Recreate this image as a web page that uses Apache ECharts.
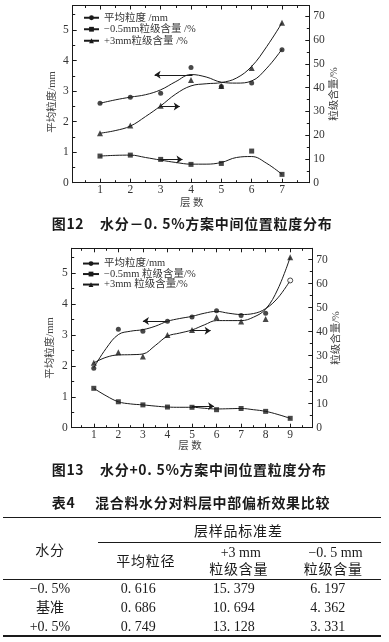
<!DOCTYPE html>
<html><head><meta charset="utf-8">
<script src="https://cdn.jsdelivr.net/npm/echarts@6/dist/echarts.min.js"></script>
<style>
html,body{margin:0;padding:0;background:#fff;}
#wrap{position:relative;width:389px;height:642px;overflow:hidden;background:#fff;}
#chart{position:absolute;left:0;top:0;width:389px;height:642px;}
.t{position:absolute;white-space:nowrap;line-height:1;color:#1a1a1a;}
.cap{font-family:"Noto Sans CJK SC","Noto Sans",sans-serif;font-weight:700;font-size:14px;letter-spacing:0.7px;transform:translateY(-50%);}
.tb{font-family:"Liberation Serif","Noto Sans CJK SC",serif;font-size:14px;transform:translate(-50%,-50%);}
.cj{letter-spacing:0.8px;}
.nm{font-family:"Liberation Serif","Noto Sans CJK SC",serif;font-size:10.5px;color:#444;transform:translate(-50%,-50%);}
.nmr{font-family:"Liberation Serif","Noto Sans CJK SC",serif;font-size:10.5px;color:#444;transform:translate(-50%,-50%) rotate(-90deg);}
.rule{position:absolute;background:#1a1a1a;}
</style></head>
<body><div id="wrap"><div id="chart"></div></div>
<script>
// ---------- Figure 12 data ----------
const layers1 = [1, 2, 3, 4, 5, 6, 7];
const avgSize1 = [2.60, 2.80, 2.93, 3.77, 3.15, 3.26, 4.35];      // mm (left axis)
const fine1 = [11.2, 11.6, 9.8, 7.7, 8.1, 13.3, 3.5];              // -0.5mm % (right axis)
const coarse1 = [20.8, 24.0, 32.3, 43.2, 40.7, 48.2, 67.2];        // +3mm % (right axis)
// fitted curves
const curveX1 = [1, 1.5, 2, 2.5, 3, 3.5, 4, 4.5, 5, 5.5, 6, 6.5, 7];
const avgCurve1 = [2.60, 2.71, 2.80, 2.88, 3.04, 3.31, 3.54, 3.46, 3.29, 3.26, 3.33, 3.75, 4.37];
const fineCurve1 = [11.2, 11.5, 11.6, 10.6, 9.5, 8.5, 7.8, 7.8, 8.5, 10.6, 11.0, 8.1, 3.5];
const coarseCurve1 = [20.8, 21.9, 23.8, 27.8, 32.3, 37.3, 40.7, 41.6, 42.1, 44.0, 48.9, 57.3, 67.2];
// arrows [fromX, fromY, toX, toY]
const arrowAvg1 = [[4.05, 3.53, 2.8, 3.53]];
const arrowCoarse1 = [[2.97, 32.0, 3.63, 32.0]];
const arrowFine1 = [[2.97, 9.8, 3.72, 9.8]];

// ---------- Figure 13 data ----------
const layers2 = [1, 2, 3, 4, 5, 6, 7, 8, 9];
const avgSize2 = [1.92, 3.18, 3.12, 3.44, 3.58, 3.78, 3.63, 3.70, 4.76];
const fine2 = [16.4, 10.8, 9.5, 8.6, 8.5, 7.5, 8.0, 6.8, 3.9];
const coarse2 = [27.0, 31.4, 29.6, 38.6, 40.7, 46.0, 44.2, 45.3, 71.0];
const curveX2 = [1, 1.5, 2, 2.5, 3, 3.5, 4, 4.5, 5, 5.5, 6, 6.5, 7, 7.5, 8, 8.5, 9];
const avgCurve2 = [1.94, 2.56, 3.01, 3.12, 3.17, 3.28, 3.44, 3.53, 3.60, 3.70, 3.76, 3.70, 3.66, 3.69, 3.85, 4.20, 4.76];
const fineCurve2 = [16.4, 13.3, 10.8, 9.9, 9.5, 9.0, 8.6, 8.5, 8.5, 8.1, 7.8, 7.9, 8.0, 7.5, 6.8, 5.5, 3.9];
const coarseCurve2 = [27.0, 29.3, 30.3, 30.4, 30.7, 34.2, 38.1, 39.4, 40.7, 42.8, 44.6, 44.6, 44.6, 46.0, 49.4, 57.8, 71.0];
const arrowAvg2 = [[4.0, 3.45, 3.0, 3.45]];
const arrowCoarse2 = [[5.0, 40.4, 5.76, 40.4]];
const arrowFine2 = [[5.0, 8.9, 5.9, 8.9]];

// ---------- tick labels ----------
const xTicks1 = [1, 2, 3, 4, 5, 6, 7];
const xMinor1 = [0.5, 1.5, 2.5, 3.5, 4.5, 5.5, 6.5, 7.5];
const xTicks2 = [1, 2, 3, 4, 5, 6, 7, 8, 9];
const xMinor2 = [0.5, 1.5, 2.5, 3.5, 4.5, 5.5, 6.5, 7.5, 8.5, 9.5];
const yLeftTicks = [0, 1, 2, 3, 4, 5];
const yLeftMinor = [0.5, 1.5, 2.5, 3.5, 4.5, 5.5];
const yRightTicks = [0, 10, 20, 30, 40, 50, 60, 70];
const yRightMinor = [5, 15, 25, 35, 45, 55, 65];

// ---------- legends / names ----------
const legend1 = ['平均粒度 /mm', '−0.5mm粒级含量 /%', '+3mm粒级含量 /%'];
const legend2 = ['平均粒度/mm', '−0.5mm 粒级含量/%', '+3mm 粒级含量/%'];
const leftName = '平均粒度/mm';
const rightName = '粒级含量/%';
const xName = '层&nbsp;数';

// ---------- table ----------
const tableGroup = '层样品标准差';
const tableRowHead = '水分';
const tableColAvg = '平均粒径';
const tableColPlus3 = ['+3 mm', '粒级含量'];
const tableColMinus05 = ['−0. 5 mm', '粒级含量'];
const tableMoisture = ['−0. 5%', '基准', '+0. 5%'];
const tableAvg = ['0. 616', '0. 686', '0. 749'];
const tablePlus3 = ['15. 379', '10. 694', '13. 128'];
const tableMinus05 = ['6. 197', '4. 362', '3. 331'];

const INK = '#1a1a1a';
const LABEL = '#333';
const SERIF = '"Liberation Serif","Noto Sans CJK SC",serif';

function pairs(xs, ys) { return xs.map((x, i) => [x, ys[i]]); }

function xAxes(g, min, max, major, minor) {
  const base = { gridIndex: g, type: 'value', min: min, max: max, splitLine: { show: false } };
  const line = { show: true, onZero: false, lineStyle: { color: INK, width: 1 } };
  const tk = (vals, len) => ({ show: true, inside: true, length: len, customValues: vals, lineStyle: { color: INK, width: 1 } });
  return [
    Object.assign({}, base, { position: 'bottom', axisLine: line, axisTick: tk(major, 4),
      axisLabel: { show: true, customValues: major, margin: 1.5, color: LABEL, fontFamily: SERIF, fontSize: 11.5 } }),
    Object.assign({}, base, { position: 'bottom', axisLine: { show: false, onZero: false }, axisTick: tk(minor, 2.5), axisLabel: { show: false } }),
    Object.assign({}, base, { position: 'top', axisLine: line, axisTick: tk(major, 4), axisLabel: { show: false } }),
    Object.assign({}, base, { position: 'top', axisLine: { show: false, onZero: false }, axisTick: tk(minor, 2.5), axisLabel: { show: false } })
  ];
}
function yAxes(g, lmax, rmax) {
  const line = { show: true, onZero: false, lineStyle: { color: INK, width: 1 } };
  const tk = (vals, len) => ({ show: true, inside: true, length: len, customValues: vals, lineStyle: { color: INK, width: 1 } });
  const lab = (vals) => ({ show: true, customValues: vals, margin: 4, color: LABEL, fontFamily: SERIF, fontSize: 11.5 });
  return [
    { gridIndex: g, type: 'value', min: 0, max: lmax, position: 'left', splitLine: { show: false }, axisLine: line, axisTick: tk(yLeftTicks, 4), axisLabel: lab(yLeftTicks) },
    { gridIndex: g, type: 'value', min: 0, max: lmax, position: 'left', splitLine: { show: false }, axisLine: { show: false, onZero: false }, axisTick: tk(yLeftMinor, 2.5), axisLabel: { show: false } },
    { gridIndex: g, type: 'value', min: 0, max: rmax, position: 'right', splitLine: { show: false }, axisLine: line, axisTick: tk(yRightTicks, 4), axisLabel: lab(yRightTicks) },
    { gridIndex: g, type: 'value', min: 0, max: rmax, position: 'right', splitLine: { show: false }, axisLine: { show: false, onZero: false }, axisTick: tk(yRightMinor, 2.5), axisLabel: { show: false } }
  ];
}
function curve(name, xs, ys, xi, yi, symbol, arrows) {
  const s = {
    type: 'line', name: name, xAxisIndex: xi, yAxisIndex: yi, data: pairs(xs, ys),
    smooth: 0.4, symbol: symbol, symbolSize: 5, showSymbol: false, silent: true, z: 2,
    lineStyle: { color: INK, width: 1 }, itemStyle: { color: INK }, emphasis: { disabled: true }
  };
  if (arrows && arrows.length) {
    s.markLine = {
      silent: true, symbol: ['none', 'arrow'], symbolSize: 6, precision: 4,
      label: { show: false }, emphasis: { disabled: true },
      lineStyle: { color: INK, width: 1, type: 'solid' },
      data: arrows.map(a => [{ coord: [a[0], a[1]] }, { coord: [a[2], a[3]] }])
    };
  }
  return s;
}
function marks(name, xs, ys, xi, yi, symbol, size, openIdx) {
  return {
    type: 'scatter', name: name, xAxisIndex: xi, yAxisIndex: yi, symbol: symbol, symbolSize: size,
    silent: true, z: 3, itemStyle: { color: INK }, emphasis: { disabled: true },
    data: xs.map((x, i) => (openIdx && openIdx.indexOf(i) >= 0)
      ? { value: [x, ys[i]], itemStyle: { color: '#fff', borderColor: INK, borderWidth: 1 } }
      : [x, ys[i]])
  };
}

const series = [
  // figure 12 (xAxis 0..3, yAxis 0..3)
  curve(legend1[0], curveX1, avgCurve1, 0, 0, 'circle', arrowAvg1),
  curve(legend1[1], curveX1, fineCurve1, 0, 2, 'rect', arrowFine1),
  curve(legend1[2], curveX1, coarseCurve1, 0, 2, 'triangle', arrowCoarse1),
  marks(legend1[0], layers1, avgSize1, 0, 0, 'circle', 5),
  marks(legend1[1], layers1, fine1, 0, 2, 'rect', 5),
  marks(legend1[2], layers1, coarse1, 0, 2, 'triangle', 6),
  // figure 13 (xAxis 4..7, yAxis 4..7)
  curve(legend2[0], curveX2, avgCurve2, 4, 4, 'circle', arrowAvg2),
  curve(legend2[1], curveX2, fineCurve2, 4, 6, 'rect', arrowFine2),
  curve(legend2[2], curveX2, coarseCurve2, 4, 6, 'triangle', arrowCoarse2),
  marks(legend2[0], layers2, avgSize2, 4, 4, 'circle', 5, [8]),
  marks(legend2[1], layers2, fine2, 4, 6, 'rect', 5),
  marks(legend2[2], layers2, coarse2, 4, 6, 'triangle', 6)
];

const option = {
  animation: false,
  grid: [
    { left: 72.7, top: 5.5, width: 236.6, height: 177.2, outerBoundsMode: 'none', containLabel: false },
    { left: 71.7, top: 248.3, width: 240.6, height: 179.4, outerBoundsMode: 'none', containLabel: false }
  ],
  xAxis: xAxes(0, 0.1, 7.9, xTicks1, xMinor1).concat(xAxes(1, 0.1, 9.9, xTicks2, xMinor2)),
  yAxis: yAxes(0, 5.8, 74.5).concat(yAxes(1, 5.8, 74.7)),
  legend: [
    { data: legend1, orient: 'vertical', left: 83, top: 12, itemWidth: 15, itemHeight: 6, itemGap: 0, padding: 0,
      selectedMode: false, textStyle: { fontFamily: SERIF, fontSize: 10.5, color: '#333', lineHeight: 11.5 } },
    { data: legend2, orient: 'vertical', left: 82, top: 258.3, itemWidth: 16, itemHeight: 6, itemGap: 0, padding: 0,
      selectedMode: false, textStyle: { fontFamily: SERIF, fontSize: 10.5, color: '#333', lineHeight: 10 } }
  ],
  series: series
};

const chart = echarts.init(document.getElementById('chart'), null, { renderer: 'canvas' });
chart.setOption(option);

// ---------- axis names, captions and table (HTML text) ----------
const wrap = document.getElementById('wrap');
function add(cls, html, x, y) {
  const d = document.createElement('div');
  d.className = 't ' + cls;
  d.innerHTML = html;
  d.style.left = x + 'px';
  d.style.top = y + 'px';
  wrap.appendChild(d);
  return d;
}
function rule(x, y, w, h) {
  const d = document.createElement('div');
  d.className = 'rule';
  d.style.left = x + 'px'; d.style.top = y + 'px';
  d.style.width = w + 'px'; d.style.height = h + 'px';
  wrap.appendChild(d);
}
add('nmr', leftName, 51.7, 101.5);
add('nmr', rightName, 333.5, 94);
add('nm', xName, 191.7, 202.5);
add('nmr', leftName, 50, 348);
add('nmr', rightName, 335.5, 337.5);
add('nm', xName, 190, 445.5);

add('cap', '图12', 51.7, 223.3);
add('cap', '水分－0.&nbsp;5%方案中间位置粒度分布', 100, 223.3);
add('cap', '图13', 51.7, 468.8);
add('cap', '水分+0.&nbsp;5%方案中间位置粒度分布', 100, 468.8);
add('cap', '表4', 51.7, 502.2);
add('cap', '混合料水分对料层中部偏析效果比较', 95, 502.2);

rule(3.3, 516.5, 377.7, 1.6);
rule(97.7, 541.8, 283.3, 1);
rule(3.3, 578.8, 377.7, 1);
rule(3.3, 635.2, 377.7, 1.6);

add('tb cj', tableGroup, 238.3, 531.7);
add('tb cj', tableRowHead, 50, 551);
add('tb cj', tableColAvg, 145.8, 562.3);
add('tb', tableColPlus3[0], 240.8, 552.7);
add('tb cj', tableColPlus3[1], 238.8, 570);
add('tb', tableColMinus05[0], 335.5, 552.7);
add('tb cj', tableColMinus05[1], 333.3, 570);
const rowY = [589.3, 608.3, 627.3];
tableMoisture.forEach((v, i) => add('tb', v, 50, rowY[i]));
tableAvg.forEach((v, i) => add('tb', v, 138.3, rowY[i]));
tablePlus3.forEach((v, i) => add('tb', v, 233.8, rowY[i]));
tableMinus05.forEach((v, i) => add('tb', v, 327.8, rowY[i]));
</script>
</body></html>
